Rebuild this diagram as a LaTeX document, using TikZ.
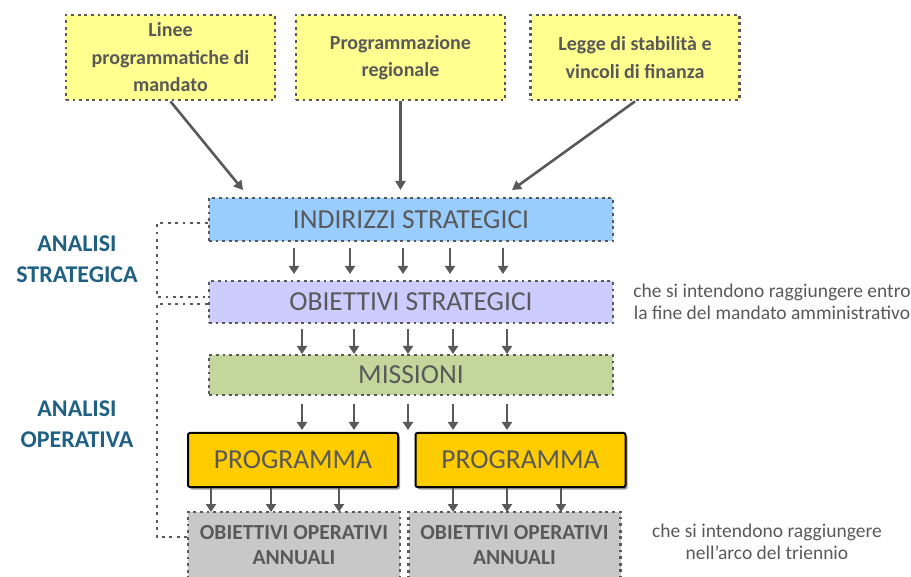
\documentclass[tikz,border=0pt]{standalone}
\usepackage{fontspec}
\setmainfont{Carlito}
\usetikzlibrary{arrows.meta,shadows}
\definecolor{txt}{HTML}{595959}
\definecolor{teal}{HTML}{1F6083}
\definecolor{ylw}{HTML}{FFFF8F}
\definecolor{blu}{HTML}{99CCFF}
\definecolor{lil}{HTML}{CCCCFF}
\definecolor{grn}{HTML}{C3D69B}
\definecolor{gld}{HTML}{FFCC00}
\definecolor{gry}{HTML}{C8C8C8}
\tikzset{
  dotbox/.style={draw=txt, line width=2.8pt, dash pattern=on 2.8pt off 3.8pt, text=txt, inner sep=0pt, align=center},
  topbox/.style={dotbox, fill=ylw, minimum width=209pt, minimum height=85pt, font=\bfseries\fontsize{20}{27.5}\selectfont},
  barbox/.style={dotbox, minimum width=404pt, font=\fontsize{27.5}{30}\selectfont},
  progbox/.style={draw=black, line width=2pt, fill=gld, rounded corners=2pt, minimum width=210pt, minimum height=54pt, text=txt, font=\fontsize{27.5}{30}\selectfont, drop shadow={shadow xshift=2pt, shadow yshift=-2.5pt, fill=black!75}},
  opbox/.style={dotbox, fill=gry, minimum width=212pt, minimum height=66pt, font=\bfseries\fontsize{21.5}{25}\selectfont},
  arr/.style={draw=txt, line width=2.6pt, -{Triangle[length=9pt,width=10pt]}},
  sarr/.style={draw=txt, line width=2.6pt, -{Triangle[length=8pt,width=10pt]}},
  link/.style={draw=txt, line width=2.8pt, dash pattern=on 2.8pt off 4.6pt},
  sidelbl/.style={text=teal, font=\bfseries\fontsize{24}{31}\selectfont, align=center},
  note/.style={text=txt, font=\fontsize{19.5}{22}\selectfont, align=center}
}
\begin{document}
\begin{tikzpicture}[x=1pt,y=-1pt]
\useasboundingbox (0,0) rectangle (911,577);
% top boxes
\node[topbox] (t1) at (170.5,57.5) {Linee\\programmatiche di\\mandato};
\node[topbox] (t2) at (400.5,57.5) {Programmazione\\regionale};
\node[topbox] (t3) at (635,57.5) {Legge di stabilità e\\vincoli di finanza};
% bars
\node[barbox, fill=blu, minimum height=43pt] (ind) at (411,219.5) {INDIRIZZI STRATEGICI};
\node[barbox, fill=lil, minimum height=42pt] (obs) at (411,302) {OBIETTIVI STRATEGICI};
\node[barbox, fill=grn, minimum height=40pt] (mis) at (411,375) {MISSIONI};
\node[progbox] (p1) at (293,460) {PROGRAMMA};
\node[progbox] (p2) at (520.5,460) {PROGRAMMA};
\node[opbox] (o1) at (294,545) {OBIETTIVI OPERATIVI\\ANNUALI};
\node[opbox] (o2) at (514.5,545) {OBIETTIVI OPERATIVI\\ANNUALI};
% top arrows
\draw[arr] (t1.south) -- (243,190);
\draw[arr] (t2.south) -- (400.5,190);
\draw[arr] (t3.south) -- (512,190);
% arrows between bars
\foreach \x in {294,350,403,450,503} \draw[sarr] (\x,248) -- (\x,274);
\foreach \x in {302,354,408,453,507} \draw[sarr] (\x,329) -- (\x,354);
\foreach \x in {302,354,408,453,507} \draw[sarr] (\x,404) -- (\x,430);
\foreach \x in {211,271,339,453,507,561} \draw[sarr] (\x,488) -- (\x,512);
% side links
\coordinate (c1) at (157,223);
\coordinate (c2) at (157,297);
\coordinate (c3) at (157,304);
\coordinate (c4) at (157,537);
\draw[link] (ind.west |- c1) -- (c1) -- (c2) -- (obs.west |- c2);
\draw[link] (obs.west |- c3) -- (c3) -- (c4) -- (o1.west |- c4);
% side labels
\node[sidelbl] (as) at (77,259) {ANALISI\\STRATEGICA};
\node[sidelbl] (ao) at (77,424) {ANALISI\\OPERATIVA};
% notes
\node[note] (n1) at (772,302) {che si intendono raggiungere entro\\la fine del mandato amministrativo};
\node[note] (n2) at (767,542) {che si intendono raggiungere\\nell’arco del triennio};
\end{tikzpicture}
\end{document}
